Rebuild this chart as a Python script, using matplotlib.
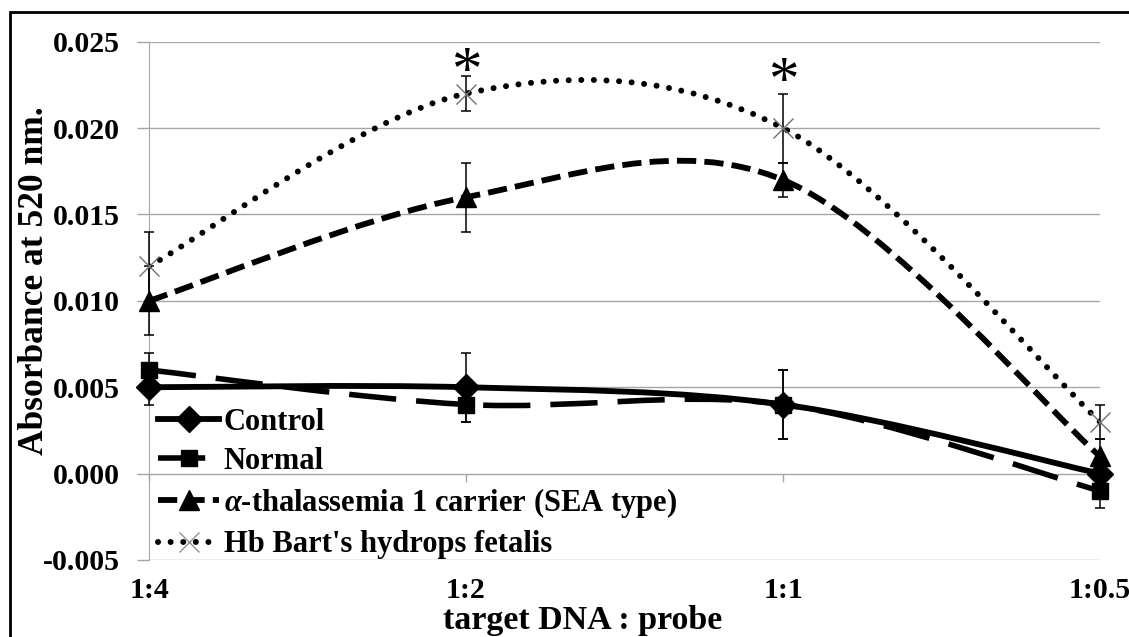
import matplotlib
matplotlib.use("Agg")
import matplotlib.pyplot as plt
from matplotlib.path import Path
from matplotlib.patches import PathPatch, Rectangle
from matplotlib.lines import Line2D
import numpy as np

plt.rcParams["font.family"] = ["Liberation Serif", "DejaVu Serif"]
plt.rcParams["font.weight"] = "bold"
plt.rcParams["axes.unicode_minus"] = False
plt.rcParams["mathtext.fontset"] = "custom"
plt.rcParams["mathtext.it"] = "Liberation Serif:italic:bold"
plt.rcParams["mathtext.rm"] = "Liberation Serif:bold"

# data
ratios = ["1:4", "1:2", "1:1", "1:0.5"]
control = [0.005, 0.005, 0.004, 0.000]
control_err = [0.001, 0.002, 0.002, 0.001]
normal = [0.006, 0.004, 0.004, -0.001]
normal_err = [0.001, 0.001, 0.002, 0.001]
alpha_carrier = [0.010, 0.016, 0.017, 0.001]
alpha_err = [0.002, 0.002, 0.001, 0.001]
hb_barts = [0.012, 0.022, 0.020, 0.003]
hb_err = [0.002, 0.001, 0.002, 0.001]
sig_idx = [1, 2]
sig_y = [0.0232, 0.0226]


def smooth_path(xs, ys):
    # Excel-style smoothed line as cubic Bezier segments
    pts = np.column_stack([xs, ys]).astype(float)
    n = len(pts)
    verts = [pts[0]]
    codes = [Path.MOVETO]
    for i in range(n - 1):
        p0 = pts[max(i - 1, 0)]
        p1 = pts[i]
        p2 = pts[i + 1]
        p3 = pts[min(i + 2, n - 1)]
        verts += [p1 + (p2 - p0) / 6, p2 - (p3 - p1) / 6, p2]
        codes += [Path.CURVE4] * 3
    return Path(verts, codes)


fig = plt.figure(figsize=(11.29, 6.37), dpi=100)
ax = fig.add_axes([149 / 1129, 1 - 560 / 637, 951 / 1129, 518.3 / 637])

x = np.arange(len(ratios))
grid_c = "#a6a6a6"

# name, values, errors, marker, size, linestyle, linewidth
series = [
    ("Control", control, control_err, "D", 13, "-", 4.2),
    ("Normal", normal, normal_err, "s", 12, (0, (8.5, 3.6)), 4.0),
    (r"$\mathit{\alpha}$-thalassemia 1 carrier (SEA type)", alpha_carrier, alpha_err, "^", 14, (0, (3.3, 1.4)), 4.2),
    ("Hb Bart's hydrops fetalis", hb_barts, hb_err, "x", 14, (0, (0.01, 2.1)), 4.3),
]

handles = []
for name, vals, err, mk, ms, ls, lw in series:
    cap = "round" if mk == "x" else "butt"
    patch = PathPatch(smooth_path(x, vals), fill=False, edgecolor="black",
                      lw=lw, linestyle=ls, capstyle=cap, zorder=3)
    ax.add_patch(patch)
    ax.errorbar(x, vals, yerr=err, fmt="none", ecolor="black", elinewidth=1.1,
                capsize=3.6, capthick=1.1, zorder=4, clip_on=False)
    if mk == "x":
        ax.plot(x, vals, linestyle="none", marker="x", ms=ms, mew=1.0,
                color="#707070", zorder=5, clip_on=False)
        h = Line2D([], [], color="black", lw=lw, linestyle=ls,
                   dash_capstyle="round", marker="x", ms=ms, mew=1.0,
                   mec="#909090")
    else:
        ax.plot(x, vals, linestyle="none", marker=mk, ms=ms, color="black",
                zorder=5, clip_on=False)
        h = Line2D([], [], color="black", lw=lw, linestyle=ls,
                   dash_capstyle=cap, marker=mk, ms=ms)
    handles.append((h, name))

for i, yv in zip(sig_idx, sig_y):
    ax.text(x[i], yv, "*", ha="center", va="center", fontsize=44,
            fontweight="normal", zorder=6)

ax.set_xlim(0, 3)
ax.set_ylim(-0.005, 0.025)
yt = np.arange(-0.005, 0.0251, 0.005)
ax.set_yticks(yt)
ax.set_yticklabels([f"{v:.3f}" for v in yt], fontsize=21.5, fontweight="bold")
ax.yaxis.grid(True, color=grid_c, lw=1.0)
ax.set_axisbelow(True)
ax.tick_params(axis="y", length=9, color=grid_c, width=1.0, pad=12)
for s in ["top", "right", "bottom"]:
    ax.spines[s].set_visible(False)
ax.spines["left"].set_color(grid_c)

ax.set_xticks(x)
ax.set_xticklabels(ratios, fontsize=21.5, fontweight="bold")
ax.tick_params(axis="x", length=0, pad=12)

# category axis crossing at zero
sec = ax.secondary_xaxis(1 / 6)
sec.set_xticks(x)
sec.set_xticklabels([])
sec.tick_params(axis="x", length=6, color=grid_c, width=1.0, direction="out")
sec.spines["bottom"].set_visible(False)
sec.spines["top"].set_visible(False)

fig.text(35 / 1129, 1 - 281 / 637, "Absorbance at 520 nm.", rotation=90,
         ha="center", va="center", fontsize=25.5, fontweight="bold")
fig.text(583 / 1129, 1 - 620 / 637, "target DNA : probe", ha="center",
         va="center", fontsize=24.5, fontweight="bold")

leg = fig.legend([h for h, _ in handles], [n for _, n in handles],
                 loc="upper left", bbox_to_anchor=(158 / 1129, 1 - 408 / 637),
                 frameon=False, fontsize=22, handlelength=2.0,
                 handletextpad=0.15, labelspacing=0.33, borderpad=0,
                 borderaxespad=0, numpoints=1)
for t in leg.get_texts():
    t.set_fontweight("bold")

fig.patches.append(Rectangle((10 / 1129, -0.05), 1.2, 1 - 12 / 637 + 0.05,
                             transform=fig.transFigure, fill=False,
                             edgecolor="black", lw=2, zorder=0))

fig.savefig("out.png", dpi=100)
